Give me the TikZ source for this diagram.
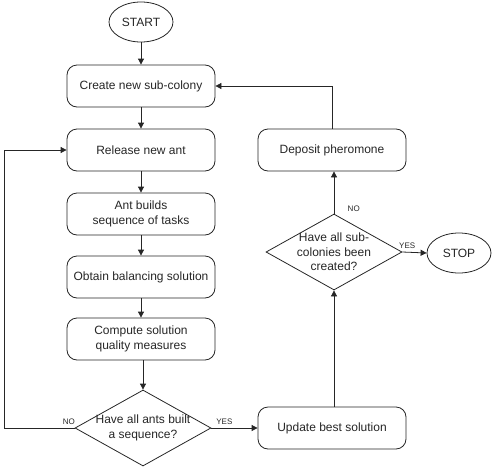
\documentclass[tikz,border=0pt]{standalone}
\usepackage{fontspec}
\setmainfont{Liberation Sans}
\usetikzlibrary{shapes.geometric, arrows.meta, positioning}

\begin{document}
\begin{tikzpicture}[
    x = 1pt, y = -1pt,
    line width = 0.8pt,
    draw = black!85,
    every node/.style = {
      text = black!85,
      font = \fontsize{12}{14.5}\selectfont,
    },
    process/.style = {
      draw,
      rectangle,
      rounded corners = 10pt,
      align = center,
      minimum width = 148pt,
      minimum height = 42pt,
    },
    terminal/.style = {
      draw,
      ellipse,
      inner sep = 0pt,
      minimum width = 64pt,
      minimum height = 40pt,
    },
    decision/.style = {
      draw,
      diamond,
      inner sep = 0pt,
      minimum width = 136pt,
      minimum height = 76pt,
    },
    answer/.style = { font = \fontsize{8}{10}\selectfont },
    flow/.style = { -{Triangle[length = 6pt, width = 6pt]} },
  ]
  \useasboundingbox (0,0) rectangle (495,466);

  \node [terminal] (start)    at (141,22)  {START};
  \node [process]  (create)   at (141,86)  {Create new sub-colony};
  \node [process]  (release)  at (141,150) {Release new ant};
  \node [process]  (builds)   at (141,214) {Ant builds\\sequence of tasks};
  \node [process]  (obtain)   at (141,277) {Obtain balancing solution};
  \node [process]  (compute)  at (141,339) {Compute solution\\quality measures};
  \node [decision, label = {[align = center]center:Have all ants built\\a sequence?}]
    (all ants) at (143,428) {};

  \node [process]  (update)   at (332,428) {Update best solution};
  \node [decision, label = {[align = center]center:Have all sub-\\colonies been\\created?}]
    (all colonies) at (334,252) {};
  \node [process]  (deposit)  at (332,150) {Deposit pheromone};
  \node [terminal] (stop)     at (459,253) {STOP};

  \coordinate (loop back) at (4,428);

  \draw [flow] (start) -- (create);
  \draw [flow] (create) -- (release);
  \draw [flow] (release) -- (builds);
  \draw [flow] (builds) -- (obtain);
  \draw [flow] (obtain) -- (compute);
  \draw [flow] (compute.south -| all ants.north) -- (all ants.north);
  \draw [flow] (all ants.east) -- node [answer, above, pos = 0.28] {YES}
    (update.west);
  \draw [flow] (all ants.west) -- node [answer, above, pos = 0.08] {NO}
    (loop back) |- (release.west);
  \draw [flow] (update.north -| all colonies.south) -- (all colonies.south);
  \draw [flow] (all colonies.north) -- node [answer, right, pos = 0.12, xshift = 10pt] {NO}
    (deposit.south -| all colonies.north);
  \draw [flow] (all colonies.east) -- node [answer, above, pos = 0.2] {YES}
    (stop.west);
  \draw [flow] (deposit.north) |- (create.east);
\end{tikzpicture}
\end{document}
